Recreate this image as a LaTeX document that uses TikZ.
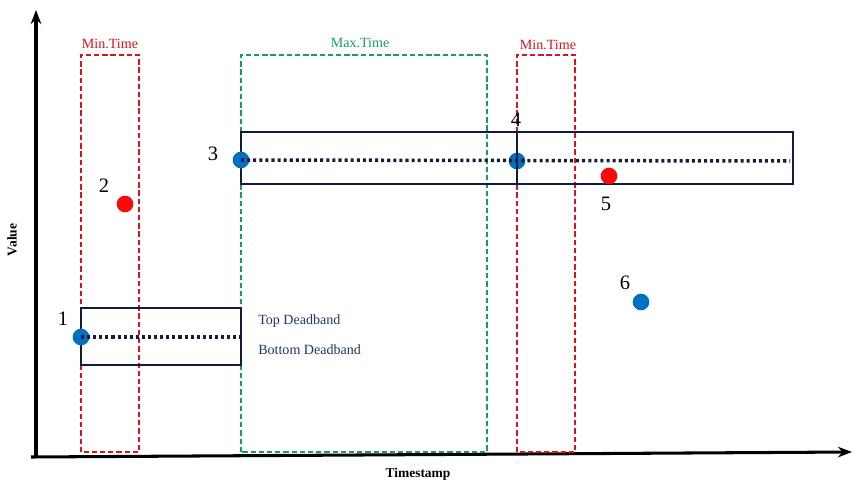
\documentclass[tikz,border=0pt]{standalone}
\usepackage{fontspec}
\setmainfont{Liberation Serif}
\usetikzlibrary{arrows.meta}
\definecolor{minred}{RGB}{210,20,35}
\definecolor{maxgreen}{RGB}{20,160,90}
\definecolor{bandnavy}{RGB}{15,30,60}
\definecolor{dotblue}{RGB}{0,112,192}
\definecolor{dotred}{RGB}{250,10,10}
\definecolor{bandtext}{RGB}{31,56,100}
\begin{document}
\begin{tikzpicture}[>=stealth, x=0.03cm, y=0.03cm, line width=0.6pt,
		sample/.style={circle, fill=#1, inner sep=0pt, minimum size=0.5cm},
		num/.style={font=\fontsize{17.5}{20}\selectfont},
		window/.style={color=#1, line width=1pt, dash pattern=on 4.5pt off 2.5pt},
		level/.style={bandnavy, line width=3pt, dash pattern=on 2.6pt off 2.6pt},
		tag/.style={font=\fontsize{12}{14}\selectfont, text=#1}]
		\useasboundingbox (0,0) rectangle (859,491);
		% axes
		\coordinate (o) at (36,35);
		\draw[line width=2.6pt,-{Stealth[length=12pt,width=9pt]}] (o) -- (36,481) coordinate (ytip);
		\draw[line width=2.6pt,-{Stealth[length=12pt,width=9pt]}] (31,34) -- (852,39) coordinate (xtip);
		\node[font=\bfseries\fontsize{11.5}{13}\selectfont, rotate=90] (ylab) at (12,251) {Value};
		\node[font=\bfseries\fontsize{11.5}{13}\selectfont] (xlab) at (418,17) {Timestamp};
		% time windows
		\draw[window=minred] (81,39) rectangle (139,436);
		\draw[window=maxgreen] (241,39) rectangle (487,436);
		\draw[window=minred] (517,39) rectangle (575,436);
		\node[tag=minred] (min1) at (110,447) {Min.Time};
		\node[tag=maxgreen] (max1) at (360,448) {Max.Time};
		\node[tag=minred] (min2) at (548,446) {Min.Time};
		% deadbands
		\draw[bandnavy, line width=0.9pt] (81,126) rectangle (241,183);
		\draw[bandnavy, line width=0.9pt] (241,307) rectangle (793,359);
		\node[tag=bandtext, anchor=west] (top) at (254,170) {Top Deadband};
		\node[tag=bandtext, anchor=west] (bot) at (254,141) {Bottom Deadband};
		% samples
		\node[sample=dotblue] (p1) at (81,154) {};
		\node[sample=dotred] (p2) at (125,287) {};
		\node[sample=dotblue] (p3) at (241,331) {};
		\node[sample=dotblue] (p4) at (517,330) {};
		\node[sample=dotred] (p5) at (609,315) {};
		\node[sample=dotblue] (p6) at (641,189) {};
		\node[num] (l1) at (63,172) {1};
		\node[num] (l2) at (104,305) {2};
		\node[num] (l3) at (213,337) {3};
		\node[num] (l4) at (516,371) {4};
		\node[num] (l5) at (606,287) {5};
		\node[num] (l6) at (625,208) {6};
		\draw[bandnavy, line width=0.9pt] (517,307) -- (517,359);
		\coordinate (e1) at (241,154);
		\coordinate (e3) at (790,330);
		\draw[level] (p1.center) -- (e1);
		\draw[level] (p3.center) -- (e3);
\end{tikzpicture}
\end{document}
